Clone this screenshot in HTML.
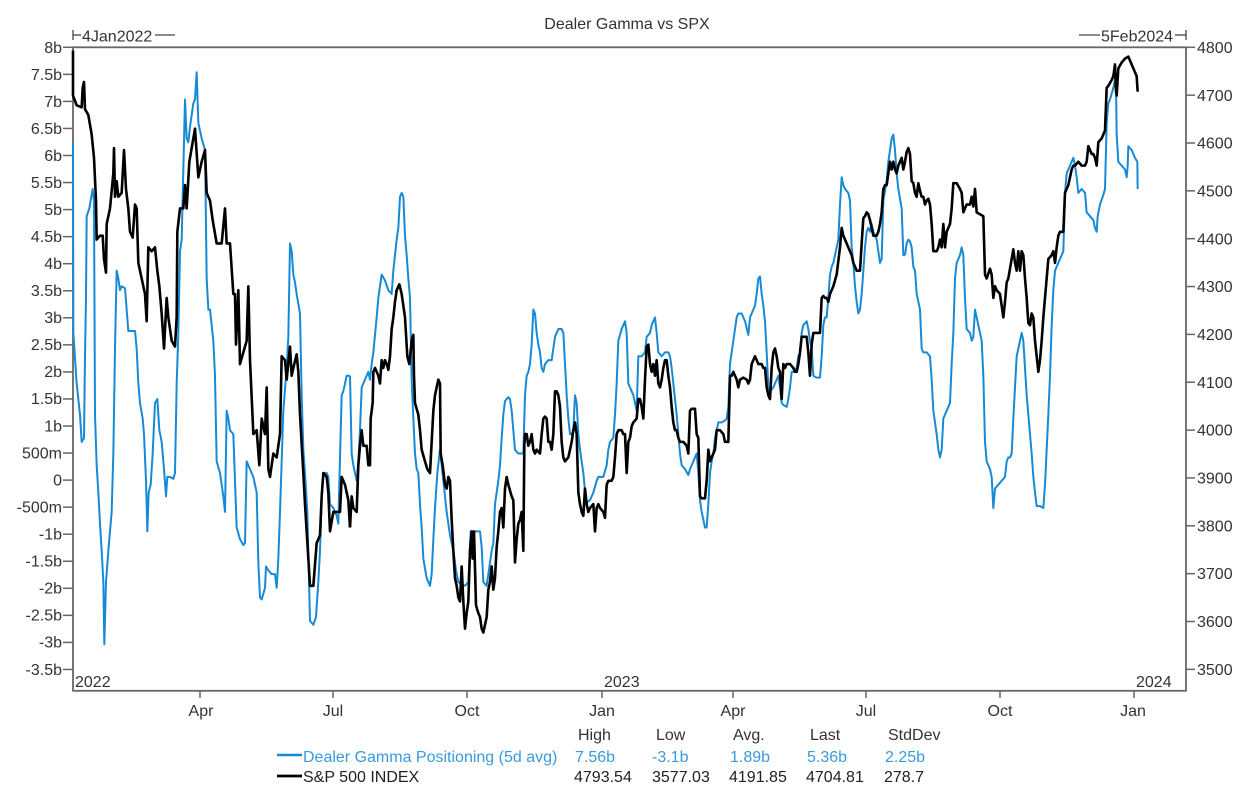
<!DOCTYPE html>
<html>
<head>
<meta charset="utf-8">
<style>
html,body{margin:0;padding:0;background:#fff;}
svg{display:block;}
text{font-family:"Liberation Sans",Arial,sans-serif;font-size:16px;fill:#333;}
</style>
</head>
<body>
<svg width="1260" height="805" viewBox="0 0 1260 805" xmlns="http://www.w3.org/2000/svg">
<rect x="0" y="0" width="1260" height="805" fill="#fff"/>

<!-- Title -->
<text x="627" y="29" text-anchor="middle">Dealer Gamma vs SPX</text>

<!-- date range markers -->
<g stroke="#444" stroke-width="1.3" fill="none">
  <line x1="73" y1="30" x2="73" y2="40"/>
  <line x1="73" y1="35" x2="81" y2="35"/>
  <line x1="155" y1="35" x2="175" y2="35"/>
  <line x1="1079" y1="35" x2="1100" y2="35"/>
  <line x1="1175" y1="35" x2="1186" y2="35"/>
  <line x1="1186" y1="30" x2="1186" y2="40"/>
</g>
<text x="82" y="41.5">4Jan2022</text>
<text x="1101" y="41.5">5Feb2024</text>

<!-- Frame -->
<rect x="73" y="47.3" width="1113" height="643.5" fill="none" stroke="#666" stroke-width="1.8"/>

<!-- Left axis ticks -->
<g stroke="#666" stroke-width="1.5">
  <line x1="63" y1="47.3" x2="73" y2="47.3"/>
  <line x1="63" y1="74.35" x2="73" y2="74.35"/>
  <line x1="63" y1="101.4" x2="73" y2="101.4"/>
  <line x1="63" y1="128.45" x2="73" y2="128.45"/>
  <line x1="63" y1="155.5" x2="73" y2="155.5"/>
  <line x1="63" y1="182.55" x2="73" y2="182.55"/>
  <line x1="63" y1="209.6" x2="73" y2="209.6"/>
  <line x1="63" y1="236.65" x2="73" y2="236.65"/>
  <line x1="63" y1="263.7" x2="73" y2="263.7"/>
  <line x1="63" y1="290.75" x2="73" y2="290.75"/>
  <line x1="63" y1="317.8" x2="73" y2="317.8"/>
  <line x1="63" y1="344.85" x2="73" y2="344.85"/>
  <line x1="63" y1="371.9" x2="73" y2="371.9"/>
  <line x1="63" y1="398.95" x2="73" y2="398.95"/>
  <line x1="63" y1="426" x2="73" y2="426"/>
  <line x1="63" y1="453.05" x2="73" y2="453.05"/>
  <line x1="63" y1="480.1" x2="73" y2="480.1"/>
  <line x1="63" y1="507.15" x2="73" y2="507.15"/>
  <line x1="63" y1="534.2" x2="73" y2="534.2"/>
  <line x1="63" y1="561.25" x2="73" y2="561.25"/>
  <line x1="63" y1="588.3" x2="73" y2="588.3"/>
  <line x1="63" y1="615.35" x2="73" y2="615.35"/>
  <line x1="63" y1="642.4" x2="73" y2="642.4"/>
  <line x1="63" y1="669.45" x2="73" y2="669.45"/>
</g>
<g text-anchor="end">
  <text x="62" y="53">8b</text>
  <text x="62" y="80">7.5b</text>
  <text x="62" y="107">7b</text>
  <text x="62" y="134">6.5b</text>
  <text x="62" y="161">6b</text>
  <text x="62" y="188">5.5b</text>
  <text x="62" y="215">5b</text>
  <text x="62" y="242">4.5b</text>
  <text x="62" y="269">4b</text>
  <text x="62" y="296">3.5b</text>
  <text x="62" y="323">3b</text>
  <text x="62" y="350">2.5b</text>
  <text x="62" y="377">2b</text>
  <text x="62" y="404">1.5b</text>
  <text x="62" y="431.5">1b</text>
  <text x="62" y="458.5">500m</text>
  <text x="62" y="485.5">0</text>
  <text x="62" y="512.5">-500m</text>
  <text x="62" y="539.5">-1b</text>
  <text x="62" y="566.5">-1.5b</text>
  <text x="62" y="593.5">-2b</text>
  <text x="62" y="620.5">-2.5b</text>
  <text x="62" y="647.5">-3b</text>
  <text x="62" y="675">-3.5b</text>
</g>

<!-- Right axis ticks -->
<g stroke="#666" stroke-width="1.5">
  <line x1="1186" y1="47.3" x2="1195" y2="47.3"/>
  <line x1="1186" y1="95.15" x2="1195" y2="95.15"/>
  <line x1="1186" y1="143" x2="1195" y2="143"/>
  <line x1="1186" y1="190.85" x2="1195" y2="190.85"/>
  <line x1="1186" y1="238.7" x2="1195" y2="238.7"/>
  <line x1="1186" y1="286.55" x2="1195" y2="286.55"/>
  <line x1="1186" y1="334.4" x2="1195" y2="334.4"/>
  <line x1="1186" y1="382.25" x2="1195" y2="382.25"/>
  <line x1="1186" y1="430.1" x2="1195" y2="430.1"/>
  <line x1="1186" y1="477.95" x2="1195" y2="477.95"/>
  <line x1="1186" y1="525.8" x2="1195" y2="525.8"/>
  <line x1="1186" y1="573.65" x2="1195" y2="573.65"/>
  <line x1="1186" y1="621.5" x2="1195" y2="621.5"/>
  <line x1="1186" y1="669.35" x2="1195" y2="669.35"/>
</g>
<g>
  <text x="1197" y="53">4800</text>
  <text x="1197" y="101">4700</text>
  <text x="1197" y="148.5">4600</text>
  <text x="1197" y="196.5">4500</text>
  <text x="1197" y="244.5">4400</text>
  <text x="1197" y="292">4300</text>
  <text x="1197" y="340">4200</text>
  <text x="1197" y="388">4100</text>
  <text x="1197" y="435.5">4000</text>
  <text x="1197" y="483.5">3900</text>
  <text x="1197" y="531.5">3800</text>
  <text x="1197" y="579">3700</text>
  <text x="1197" y="627">3600</text>
  <text x="1197" y="675">3500</text>
</g>

<!-- Bottom ticks -->
<g stroke="#666" stroke-width="1.5">
  <line x1="200" y1="691" x2="200" y2="698"/>
  <line x1="333" y1="691" x2="333" y2="698"/>
  <line x1="467" y1="691" x2="467" y2="698"/>
  <line x1="602" y1="691" x2="602" y2="698"/>
  <line x1="733" y1="691" x2="733" y2="698"/>
  <line x1="866" y1="691" x2="866" y2="698"/>
  <line x1="1000" y1="691" x2="1000" y2="698"/>
  <line x1="1134" y1="691" x2="1134" y2="698"/>
</g>
<g text-anchor="middle">
  <text x="201" y="716">Apr</text>
  <text x="333" y="716">Jul</text>
  <text x="467" y="716">Oct</text>
  <text x="602" y="716">Jan</text>
  <text x="733" y="716">Apr</text>
  <text x="866" y="716">Jul</text>
  <text x="1000" y="716">Oct</text>
  <text x="1133" y="716">Jan</text>
</g>
<text x="75" y="687">2022</text>
<text x="604" y="687">2023</text>
<text x="1136" y="687">2024</text>

<!-- Series: Dealer Gamma (blue) -->
<g fill="none" stroke="#168ad6" stroke-width="2" stroke-linejoin="round">
<g transform="translate(70,45) scale(0.333333,0.389105)">
<polyline vector-effect="non-scaling-stroke" points="9,250 10,740 20,870 30,950 35,1020 42,1010 45,800 48,650 50,440 58,420 68,370 72,400 75,950 80,1080 85,1150 90,1230 95,1300 100,1380 103,1540 108,1380 115,1300 125,1200 130,1050 135,780 140,580 145,600 150,630 155,620 165,625 170,680 175,735 185,735 195,735 200,780 205,870 210,920 218,960 222,1000 228,1120 232,1250 236,1150 242,1130 248,1050 255,920 262,910 268,990 275,1020 282,1090 288,1160 292,1110 300,1110 310,1115 315,1100 320,870 325,740 330,530 335,500 345,140 350,240 355,250 360,210 365,180 370,150 375,140 380,70 385,200 395,240 405,270 407,400 410,600 415,680 420,680 430,760 435,850 440,1070 450,1100 460,1160 465,1200 470,940 475,960 480,990 490,1000 500,1240 510,1270 520,1285 525,1280 530,1070 540,1090 550,1110 560,1150 565,1330 570,1420 575,1425 585,1395 588,1340 595,1350 605,1360 615,1360 620,1395 625,1320 630,1200 640,940 650,830 655,750 660,510 665,530 670,590 675,610 680,640 690,690 695,900 700,1040 705,1100 712,1200 720,1480 730,1490 738,1470 745,1380 750,1300 755,1160 760,1110 765,1100 770,1100 775,1110 780,1180 790,1190 800,1210 805,1230 810,1060 815,900 820,890 830,850 840,850"/>
</g>
<g transform="translate(350,45) scale(0.333333,0.389105)">
<polyline vector-effect="non-scaling-stroke" points="0,850 5,1050 10,1080 20,1120 25,1070 30,990 35,880 45,860 55,840 60,860 65,820 70,790 80,700 85,650 95,590 105,605 115,630 125,640 130,580 135,540 140,500 145,470 150,390 155,380 160,390 165,490 170,540 175,600 180,650 185,860 190,960 195,1050 200,1090 205,1100 210,1180 215,1240 220,1320 230,1370 240,1390 245,1360 250,1270 255,1190 262,1100 270,1040 280,1120 290,1200 300,1260 305,1280 312,1310 318,1350 325,1380 335,1385 345,1390 355,1380 362,1250 370,1250 380,1250 390,1250 395,1290 400,1380 410,1390 420,1330 425,1300 430,1280 435,1180 440,1150 445,1120 450,1080 455,1010 460,950 465,915 475,905 480,910 485,940 490,990 495,1040 505,1050 515,1050 520,1050 525,900 530,850 535,840 540,820 545,770 550,680 555,690 560,740 565,770 570,790 575,830 580,840 585,820 595,810 605,810 610,780 615,750 625,730 635,730 640,740 645,820 650,900 655,960 660,1000 665,1000 670,990 675,900 680,920 685,1000 690,1040 695,1070 700,1100 705,1145 710,1175 720,1170 730,1150 740,1120 745,1110 755,1110 760,1110 770,1080 775,1040 780,1020 790,1010 795,950 800,870 805,760 815,730 825,710 830,740 835,870 840,880"/>
</g>
<g transform="translate(630,45) scale(0.333333,0.389105)">
<polyline vector-effect="non-scaling-stroke" points="0,880 5,890 10,900 20,940 25,800 35,800 45,790 50,750 60,740 65,720 70,710 75,700 80,740 85,790 95,800 105,790 115,790 120,800 125,830 130,870 135,910 140,950 145,1000 150,1050 155,1080 165,1090 175,1105 180,1090 185,1080 190,1070 195,1060 200,1050 205,1100 210,1170 215,1200 220,1220 225,1240 230,1240 235,1180 240,1100 245,1070 250,1050 255,1010 260,990 265,970 275,970 285,965 290,960 295,930 300,820 310,760 320,700 325,690 335,690 345,710 355,745 360,700 370,680 375,670 380,640 385,600 390,595 395,640 400,670 405,710 410,790 415,880 420,890 430,880 440,860 445,850 450,880 455,920 460,925 470,930 475,910 480,880 485,840 490,840 500,830 505,800 510,790 515,740 520,720 530,710 535,730 540,760 545,780 550,850 560,855 570,855 575,800 580,720 585,700 590,700 595,650 600,590 605,570 610,560 615,540 620,520 625,500 630,410 635,340 640,360 645,370 655,380 660,400 665,520 670,560 675,620 680,660 685,690 690,680 695,640 700,580 705,520 710,480 715,470 720,480 725,460 730,480 740,500 745,530 750,560 755,550 760,400 770,350 775,300 780,270 785,240 790,230 795,270 800,330 805,370 815,420 820,540 825,540"/>
</g>
<g transform="translate(905,45) scale(0.333333,0.389105)">
<polyline vector-effect="non-scaling-stroke" points="0,540 5,510 10,500 15,505 20,520 25,570 30,580 35,640 45,680 50,780 55,790 65,790 75,800 80,860 85,940 95,1000 100,1040 105,1060 110,1040 115,960 120,950 130,930 135,920 140,820 145,740 150,600 155,560 165,540 170,520 175,540 180,650 185,730 195,740 200,760 205,750 210,680 215,700 220,720 225,740 230,760 235,850 240,1020 245,1070 255,1090 260,1110 265,1190 270,1140 280,1130 290,1120 300,1110 305,1070 310,1060 315,1060 320,1050 325,960 330,880 335,800 340,780 345,760 350,740 355,760 360,830 365,900 370,950 375,1000 380,1050 385,1110 390,1150 395,1185 405,1185 415,1190 420,1130 425,1040 430,950 435,850 440,720 445,630 450,580 455,570 460,560 465,550 470,540 475,530 480,380 485,330 495,310 505,290 510,310 515,340 520,380 530,370 540,380 545,430 555,440 565,450 570,470 575,480 578,440 585,410 595,385 600,370 605,200 610,150 615,140 620,125 625,110 630,90 633,100 635,230 640,300 650,310 660,320 665,340 668,310 670,260 680,270 690,290 697,300 698,370"/>
</g>
</g>

<!-- Series: S&P 500 (black) -->
<g fill="none" stroke="#000" stroke-width="2.6" stroke-linejoin="round">
<g transform="translate(70,45) scale(0.333333,0.389105)">
<polyline vector-effect="non-scaling-stroke" points="9,14 9,130 20,155 35,160 38,110 42,95 45,165 55,180 65,230 72,290 78,400 80,500 90,490 98,490 102,550 108,585 110,460 120,420 130,330 132,265 135,390 140,350 145,390 155,380 162,270 168,370 175,420 180,480 188,495 195,410 200,420 205,560 215,600 225,640 230,710 235,520 245,530 255,520 262,580 268,620 275,690 282,780 290,650 295,700 305,760 315,775 320,700 322,480 330,420 340,420 345,360 350,420 358,300 368,250 375,215 385,340 395,300 405,270 410,380 420,400 428,450 440,510 455,510 465,420 470,510 480,510 490,640 495,640 498,770 505,630 510,820 520,790 530,760 535,620 540,810 550,1000 560,990 568,1080 575,960 580,980 585,1000 590,880 595,1090 600,1110 610,1050 620,1060 630,1000 635,800 645,810 650,860 660,775 665,850 670,830 680,795 685,840 690,950 700,1100 705,1180 710,1250 720,1390 730,1390 740,1280 750,1260 755,1160 760,1100 770,1110 775,1150 780,1250 790,1200 800,1200 810,1200 815,1110 825,1130 835,1170 840,1240"/>
</g>
<g transform="translate(350,45) scale(0.333333,0.389105)">
<polyline vector-effect="non-scaling-stroke" points="0,1240 5,1160 10,1190 20,1200 25,1080 30,1030 35,990 40,1030 50,1030 55,1080 60,1080 62,960 68,920 70,840 75,830 85,850 90,870 95,810 100,830 105,810 110,820 115,835 120,800 125,730 130,700 135,660 140,630 148,615 155,640 165,700 172,800 178,820 185,760 190,745 192,850 195,920 205,950 210,990 215,1040 225,1070 232,1090 240,1100 245,1020 250,940 255,900 260,880 265,860 270,870 272,1050 278,1080 285,1130 290,1140 295,1110 300,1120 305,1220 310,1300 315,1370 320,1390 325,1420 330,1430 335,1340 340,1430 345,1500 350,1460 355,1430 360,1300 365,1250 368,1320 372,1250 378,1440 385,1460 390,1470 395,1500 400,1510 405,1490 410,1470 415,1400 420,1380 425,1340 430,1400 435,1370 440,1290 445,1250 450,1200 455,1190 460,1240 465,1140 470,1110 475,1130 485,1160 490,1170 495,1330 500,1270 505,1230 510,1220 515,1200 520,1300 523,1030 525,1000 530,1000 535,1030 540,1020 545,1000 550,1040 555,1050 560,1040 570,1050 575,1000 580,960 585,955 590,960 595,1020 600,1020 605,1040 610,1000 615,890 620,890 625,900 630,930 635,1020 640,1060 645,1070 655,1060 660,1040 665,1020 670,990 675,970 680,1000 685,1150 690,1180 695,1200 700,1210 705,1140 710,1180 715,1200 720,1190 730,1180 735,1250 740,1190 745,1180 750,1190 760,1200 765,1215 770,1130 775,1120 785,1120 790,1110 795,1060 800,1000 805,990 815,990 820,1000 825,1000 830,1100 835,1020 840,1010"/>
</g>
<g transform="translate(630,45) scale(0.333333,0.389105)">
<polyline vector-effect="non-scaling-stroke" points="0,1010 5,980 10,970 20,960 25,910 30,910 35,930 40,960 45,860 50,775 55,770 60,820 65,840 70,820 75,850 80,810 85,870 90,880 95,860 100,830 105,810 110,810 115,850 120,880 125,930 130,970 135,990 140,990 145,1010 150,1020 160,1020 170,1030 175,1050 180,940 185,935 195,935 200,1000 205,1010 210,1160 215,1165 225,1165 230,1120 235,1040 240,1070 245,1060 250,1050 255,1040 260,990 270,990 280,1000 285,1020 290,1020 295,1020 300,850 305,850 310,840 315,850 320,860 325,880 330,860 340,855 350,860 355,870 360,860 365,820 370,810 375,800 380,810 385,820 395,820 400,830 405,830 410,880 415,900 420,910 425,830 430,790 435,780 440,800 445,830 450,840 455,910 460,820 465,830 470,820 480,820 490,830 495,840 500,840 505,820 510,790 515,750 525,750 530,750 535,790 540,850 545,770 550,740 560,740 570,740 575,650 580,645 585,650 590,650 595,660 600,640 610,620 620,590 630,520 635,470 640,490 645,500 655,520 665,540 670,560 680,580 690,580 695,510 700,445 705,440 710,430 715,435 720,450 725,470 730,490 740,490 745,480 750,460 755,430 760,370 765,360 770,360 775,330 780,300 785,320 790,300 795,320 800,330 805,310 810,300 815,290 820,320 825,300"/>
</g>
<g transform="translate(905,45) scale(0.333333,0.389105)">
<polyline vector-effect="non-scaling-stroke" points="0,300 5,275 10,265 15,280 20,350 25,355 30,380 35,390 40,355 45,375 50,390 55,390 60,410 65,400 70,395 75,410 80,460 85,530 95,530 100,520 105,500 110,520 115,460 120,520 125,480 135,460 140,420 145,355 155,355 165,370 170,380 175,430 180,420 185,410 195,410 200,390 205,415 210,370 215,430 225,435 235,440 240,590 245,600 255,575 260,590 265,650 270,620 275,630 285,640 290,670 295,700 300,660 305,610 310,600 320,550 325,525 330,560 335,580 340,530 345,580 350,530 355,540 360,600 365,650 370,715 375,720 380,690 385,700 390,760 395,800 400,840 405,810 410,760 415,700 420,650 425,600 430,550 440,540 445,530 450,560 455,520 460,490 465,480 475,480 480,380 485,370 490,360 495,340 500,320 505,310 510,310 520,300 530,310 540,310 545,300 550,260 555,270 560,280 565,280 570,290 575,310 580,250 590,240 595,230 600,220 605,110 610,105 620,90 625,80 630,50 633,120 635,130 640,60 650,45 660,35 670,30 680,50 690,70 695,80 698,120"/>
</g>
</g>

<!-- Legend -->
<line x1="277" y1="755" x2="302" y2="755" stroke="#168ad6" stroke-width="2.5"/>
<line x1="277" y1="776" x2="302" y2="776" stroke="#000" stroke-width="2.8"/>
<g>
  <text x="578" y="740">High</text>
  <text x="656" y="740">Low</text>
  <text x="733" y="740">Avg.</text>
  <text x="810" y="740">Last</text>
  <text x="888" y="740">StdDev</text>
</g>
<g>
  <text x="303" y="762" style="fill:#3a9ade">Dealer Gamma Positioning (5d avg)</text>
  <text x="575" y="762" style="fill:#3a9ade">7.56b</text>
  <text x="652" y="762" style="fill:#3a9ade">-3.1b</text>
  <text x="730" y="762" style="fill:#3a9ade">1.89b</text>
  <text x="807" y="762" style="fill:#3a9ade">5.36b</text>
  <text x="885" y="762" style="fill:#3a9ade">2.25b</text>
</g>
<g>
  <text x="303" y="782" style="fill:#222">S&amp;P 500 INDEX</text>
  <text x="574" y="782" style="fill:#222">4793.54</text>
  <text x="652" y="782" style="fill:#222">3577.03</text>
  <text x="729" y="782" style="fill:#222">4191.85</text>
  <text x="806" y="782" style="fill:#222">4704.81</text>
  <text x="884" y="782" style="fill:#222">278.7</text>
</g>
</svg>
</body>
</html>
